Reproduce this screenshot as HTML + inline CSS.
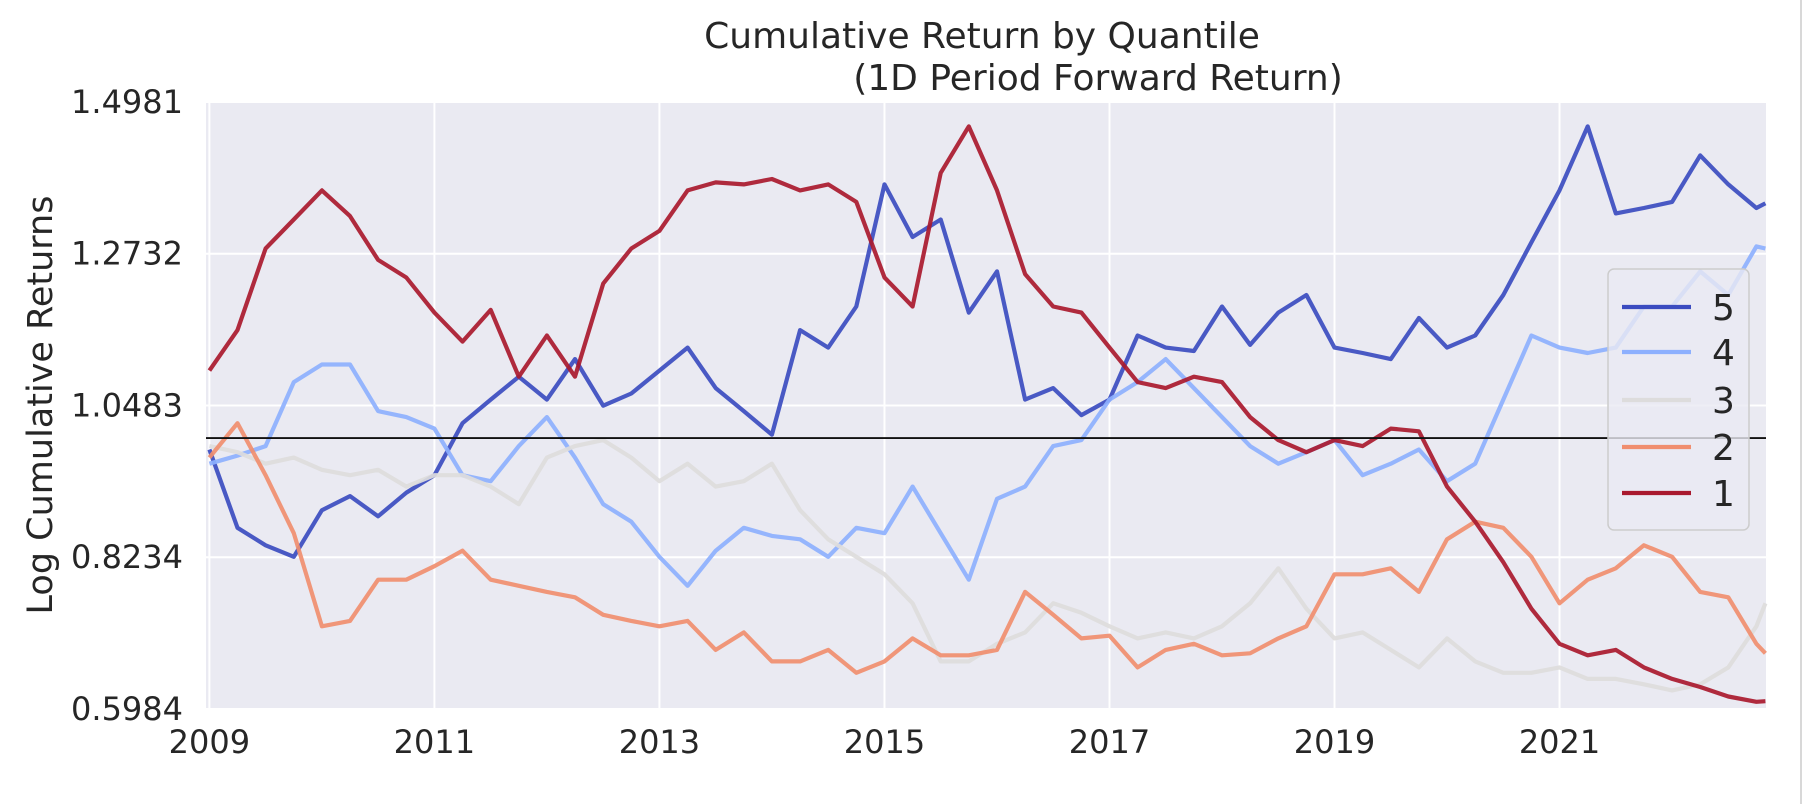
<!DOCTYPE html>
<html><head><meta charset="utf-8">
<style>
html,body{margin:0;padding:0;background:#fff;width:1816px;height:804px;overflow:hidden;font-family:"Liberation Sans","DejaVu Sans",sans-serif;}
svg text{font-family:"DejaVu Sans","Liberation Sans",sans-serif;fill:#262626;}
</style></head>
<body>
<svg id="chart" width="1816" height="804" xmlns="http://www.w3.org/2000/svg">
  <rect x="0" y="0" width="1816" height="804" fill="#fff"/>
  <line x1="1801" y1="0" x2="1801" y2="804" stroke="#d8d8d8" stroke-width="2"/>
  <rect x="206" y="102" width="1560" height="607" fill="#eaeaf2"/>
  <g id="grid"></g>
  <g id="series"></g>
  <g id="axes"></g>
  <text x="982" y="48" font-size="36" text-anchor="middle">Cumulative Return by Quantile</text>
  <text x="1098" y="90" font-size="36" text-anchor="middle">(1D Period Forward Return)</text>
  <text transform="translate(52,405) rotate(-90)" font-size="35" text-anchor="middle">Log Cumulative Returns</text>
  <g id="legend"></g>
</svg>
<script>
const dates = [2009,2009.25,2009.5,2009.75,2010,2010.25,2010.5,2010.75,2011,2011.25,2011.5,2011.75,2012,2012.25,2012.5,2012.75,2013,2013.25,2013.5,2013.75,2014,2014.25,2014.5,2014.75,2015,2015.25,2015.5,2015.75,2016,2016.25,2016.5,2016.75,2017,2017.25,2017.5,2017.75,2018,2018.25,2018.5,2018.75,2019,2019.25,2019.5,2019.75,2020,2020.25,2020.5,2020.75,2021,2021.25,2021.5,2021.75,2022,2022.25,2022.5,2022.75,2022.83];
const q1 = [1.100,1.160,1.281,1.324,1.367,1.329,1.264,1.238,1.186,1.143,1.190,1.091,1.152,1.091,1.229,1.281,1.307,1.367,1.379,1.376,1.384,1.367,1.376,1.350,1.238,1.195,1.393,1.462,1.367,1.243,1.195,1.186,1.134,1.083,1.074,1.091,1.083,1.031,0.997,0.979,0.997,0.988,1.014,1.010,0.928,0.876,0.816,0.747,0.695,0.678,0.686,0.660,0.643,0.631,0.617,0.609,0.610];
const q2 = [0.971,1.022,0.945,0.859,0.721,0.729,0.790,0.790,0.810,0.833,0.790,0.781,0.772,0.764,0.738,0.729,0.721,0.729,0.686,0.712,0.669,0.669,0.686,0.652,0.669,0.703,0.678,0.678,0.686,0.772,0.738,0.703,0.707,0.660,0.686,0.695,0.678,0.681,0.703,0.721,0.798,0.798,0.807,0.772,0.850,0.876,0.867,0.824,0.755,0.790,0.807,0.841,0.824,0.772,0.764,0.695,0.681];
const q3 = [0.988,0.979,0.962,0.971,0.953,0.945,0.953,0.928,0.945,0.945,0.928,0.902,0.971,0.988,0.997,0.971,0.936,0.962,0.928,0.936,0.962,0.893,0.850,0.824,0.798,0.755,0.669,0.669,0.695,0.712,0.755,0.741,0.721,0.703,0.712,0.703,0.721,0.755,0.807,0.747,0.703,0.712,0.686,0.660,0.703,0.669,0.652,0.652,0.660,0.643,0.643,0.635,0.626,0.635,0.660,0.721,0.755];
const q4 = [0.962,0.974,0.988,1.083,1.109,1.109,1.040,1.031,1.014,0.945,0.936,0.988,1.031,0.971,0.902,0.876,0.824,0.781,0.833,0.867,0.855,0.850,0.824,0.867,0.859,0.928,0.859,0.790,0.910,0.928,0.988,0.997,1.057,1.083,1.117,1.074,1.031,0.988,0.962,0.979,0.997,0.945,0.962,0.983,0.936,0.962,1.057,1.152,1.134,1.126,1.134,1.195,1.195,1.247,1.212,1.284,1.281];
const q5 = [0.983,0.867,0.841,0.824,0.893,0.914,0.884,0.919,0.945,1.022,1.057,1.091,1.057,1.117,1.048,1.066,1.100,1.134,1.074,1.040,1.005,1.160,1.134,1.195,1.376,1.298,1.324,1.186,1.247,1.057,1.074,1.034,1.057,1.152,1.134,1.129,1.195,1.138,1.186,1.212,1.134,1.126,1.117,1.178,1.134,1.152,1.212,1.290,1.367,1.462,1.333,1.341,1.350,1.419,1.376,1.341,1.348];
const yTicks = [0.5984,0.8234,1.0483,1.2732,1.4981];
const yTickLabels = ["0.5984","0.8234","1.0483","1.2732","1.4981"];
const xTicks = [2009,2011,2013,2015,2017,2019,2021];
const xTickLabels = ["2009","2011","2013","2015","2017","2019","2021"];
const seriesNames = ["5","4","3","2","1"];

const NS="http://www.w3.org/2000/svg";
const L=206,R=1766,T=102,B=709;
const x0=2008.97,x1=2022.835,yMin=0.5984,yMax=1.4981;
const sx=t=>L+(t-x0)/(x1-x0)*(R-L);
const sy=v=>B-(v-yMin)/(yMax-yMin)*(B-T);
function mk(tag,attrs,parent){const e=document.createElementNS(NS,tag);for(const k in attrs)e.setAttribute(k,attrs[k]);parent.appendChild(e);return e;}
const grid=document.getElementById('grid'),axes=document.getElementById('axes'),sg=document.getElementById('series'),lg=document.getElementById('legend');

yTicks.forEach((v,i)=>{
  const ln=mk('line',{x1:L,x2:R,y1:sy(v),y2:sy(v),stroke:'#fff','stroke-width':2},grid);
  
  
  const tx=mk('text',{x:183,y:sy(v)+11,'font-size':32,'text-anchor':'end'},axes);
  tx.textContent=yTickLabels[i];
  
  
});
xTicks.forEach((t,i)=>{
  const ln=mk('line',{x1:sx(t),x2:sx(t),y1:T,y2:B,stroke:'#fff','stroke-width':2},grid);
  
  
  const tx=mk('text',{x:sx(t),y:753,'font-size':32,'text-anchor':'middle'},axes);
  tx.textContent=xTickLabels[i];
  
  
});

const colors={"5":"#3b4cc0","4":"#8db0fe","3":"#dddcdc","2":"#f08e6f","1":"#a9192e"};
const data={"5":q5,"4":q4,"3":q3,"2":q2,"1":q1};
seriesNames.forEach(n=>{
  const vals=data[n];
  const len=Math.min(vals.length,dates.length);
  let d='';
  for(let i=0;i<len;i++){d+=(i?'L':'M')+sx(dates[i]).toFixed(1)+','+sy(vals[i]).toFixed(1);}
  const p=mk('path',{d:d,fill:'none',stroke:colors[n],'stroke-width':4.2,'stroke-linejoin':'round','stroke-opacity':0.92},sg);
  
  
});
const zl=mk('line',{x1:L,x2:R,y1:sy(1),y2:sy(1),stroke:'#111','stroke-width':1.8},sg);



const box=mk('rect',{x:1608,y:269,width:141,height:261,rx:6,fill:'#eaeaf2','fill-opacity':0.8,stroke:'#cccccc','stroke-width':1.5},lg);


const ly=[307,352,400,447,493];
seriesNames.forEach((n,i)=>{
  const g=mk('g',{},lg);
  
  
  mk('line',{x1:1622,x2:1691,y1:ly[i],y2:ly[i],stroke:colors[n],'stroke-width':4.2},g);
  const t=mk('text',{x:1712,y:ly[i]+13,'font-size':36},g);
  t.textContent=n;
});
</script>
</body></html>
